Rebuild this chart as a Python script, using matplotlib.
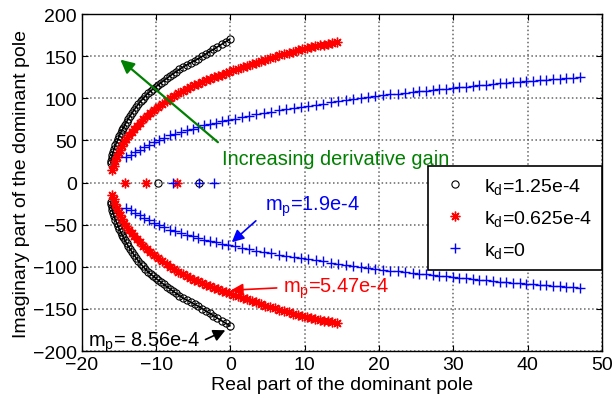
import matplotlib
matplotlib.use("Agg")
import matplotlib.pyplot as plt

plt.rcParams['font.family'] = ['Liberation Sans', 'DejaVu Sans']
plt.rcParams['mathtext.fontset'] = 'custom'
plt.rcParams['mathtext.rm'] = 'Liberation Sans'
plt.rcParams['mathtext.it'] = 'Liberation Sans:italic'

# upper branches (lower branches are the conjugates)
black_x = [-16.1, -16.05, -15.98, -15.9, -15.8, -15.65, -15.5, -15.3, -15.1, -14.95, -14.78, -14.6, -14.4,
           -14.2, -13.98, -13.75, -13.5, -13.24, -12.97, -12.69, -12.4, -12.09, -11.77, -11.44, -11.1,
           -10.75, -10.4, -10.05, -9.7, -9.33, -8.96, -8.58, -8.2, -7.76, -7.31, -6.86, -6.4,
           -5.88, -5.36, -4.83, -4.3, -3.8, -3.3, -2.8, -2.3, -1.75, -1.2, -0.65, -0.1]
black_y = [23, 26, 29, 32.5, 36, 40, 44, 48, 52, 55.5, 58.8, 62, 65,
           68.5, 72, 75.5, 79, 82.5, 86, 89.5, 93, 96.3, 99.6, 102.8, 106,
           108.6, 111.1, 113.6, 116, 118.5, 121, 123.5, 126, 128.8, 131.5, 134.3, 137,
           139.5, 142, 144.5, 147, 149.8, 152.5, 155.3, 158, 161, 164, 167, 170]

red_x = [-15.9, -15.72, -15.52, -15.3, -15.06, -14.8, -14.54, -14.27, -14.0, -13.66, -13.3, -12.95,
         -12.6, -12.16, -11.71, -11.26, -10.8, -10.26, -9.71, -9.16, -8.6, -8.07, -7.53, -6.99, -6.45,
         -5.9, -5.39, -4.87, -4.35, -3.83, -3.31, -2.8, -2.27, -1.74, -1.2, -0.66, -0.13,
         0.4, 1.01, 1.63, 2.24, 2.86, 3.47, 4.09, 4.7, 5.33, 5.96, 6.59, 7.21, 7.84, 8.47,
         9.1, 9.68, 10.26, 10.83, 11.41, 11.99, 12.57, 13.14, 13.72, 14.3]
red_y = [15, 20, 25, 30, 34.5, 39, 43.5, 48, 52, 56, 59.8, 63.5,
         67, 71.2, 75.2, 79.2, 83, 86.6, 90.1, 93.6, 97, 100, 102.9, 105.7, 108.4,
         111, 113.1, 115.2, 117.2, 119.2, 121.1, 123, 124.8, 126.5, 128.2, 129.9, 131.5,
         133, 135, 136.9, 138.8, 140.6, 142.4, 144.2, 146, 147.7, 149.3, 150.9, 152.5, 154, 155.5,
         157, 158.2, 159.4, 160.5, 161.6, 162.7, 163.8, 164.9, 166, 167]

blue_x = [-14.0, -13.4, -12.8, -12.2, -11.6, -11.0, -10.3, -9.6, -8.9, -8.2, -7.5, -6.7, -5.9, -5.1,
          -4.3, -3.5, -2.7, -1.9, -1.1, -0.3, 0.6, 1.5, 2.5, 3.5, 4.5, 5.5, 6.5, 7.5, 8.5, 9.5,
          10.5, 11.5, 12.5, 13.5, 14.5, 15.5, 16.5, 17.5, 18.5, 19.5, 20.5, 21.5, 22.5, 23.5, 24.5,
          25.4, 26.3, 27.2, 28.1, 29.0, 29.9, 30.8, 31.7, 32.6, 33.5, 34.4, 35.3, 36.2, 37.1, 38.0,
          38.9, 39.8, 40.7, 41.6, 42.5, 43.4, 44.3, 45.2, 46.1, 47.0]
blue_y = [30, 33, 36, 39, 42, 45, 48, 51, 53, 56, 58, 60, 62, 64,
          66, 68, 69.5, 71, 72.5, 74, 75.5, 77.3, 79.2, 81, 82.7, 84.2, 85.6, 87, 88.4, 89.7,
          91, 92.4, 93.7, 95, 96.3, 97.5, 98.7, 99.9, 101.1, 102.3, 103.4, 104.5, 105.5, 106.5, 107.5,
          108.3, 109.1, 109.9, 110.7, 111.5, 112.3, 113.1, 113.9, 114.7, 115.5, 116.3, 117, 117.7, 118.4, 119,
          119.6, 120.2, 120.8, 121.4, 122, 122.6, 123.2, 123.8, 124.4, 125]

# real closed-loop poles on the real axis
black_real = [-9.8, -4.2]
red_real = [-14.2, -11.4, -7.2]
blue_real = [-7.7, -4.2, -2.2]

labels = [r'k$_{\mathrm{d}}$=1.25e-4', r'k$_{\mathrm{d}}$=0.625e-4', r'k$_{\mathrm{d}}$=0']

fig = plt.figure(figsize=(6.15, 4.06), dpi=100)
ax = fig.add_axes([0.133, 0.133, 0.846, 0.830])

star = (8, 2, 0)
styles = [
    (black_x, black_y, black_real, 1.2, dict(marker='o', color='k', mfc='none', ms=5.2, mew=0.8)),
    (red_x, red_y, red_real, 2.6, dict(marker=star, color='r', ms=7, mew=1.0)),
    (blue_x, blue_y, blue_real, 0, dict(marker='+', color='b', ms=7, mew=1.0)),
]
handles = []
for (xs, ys, xr, band, st), lab in zip(styles, labels):
    if band:
        # markers sit so close in the original that they read as a band
        ax.plot(xs, ys, '-', color=st['color'], lw=band, solid_capstyle='round')
        ax.plot(xs, [-v for v in ys], '-', color=st['color'], lw=band, solid_capstyle='round')
    h, = ax.plot(xs, ys, ls='none', label=lab, **st)
    ax.plot(xs, [-v for v in ys], ls='none', **st)
    ax.plot(xr, [0] * len(xr), ls='none', **st)
    handles.append(h)

ax.set_xlim(-20, 50)
ax.set_ylim(-200, 200)
ax.set_xticks(range(-20, 51, 10))
ax.set_yticks(range(-200, 201, 50))
ax.grid(True, ls=':', color='0.4', lw=1.1)
ax.tick_params(direction='in', top=True, right=True, labelsize=14, length=4)
for sp in ax.spines.values():
    sp.set_linewidth(1.0)
ax.set_xlabel('Real part of the dominant pole', fontsize=14, labelpad=2)
ax.set_ylabel('Imaginary part of the dominant pole', fontsize=14, labelpad=2)

ax.annotate('', xy=(-15.1, 148), xytext=(-1.4, 45.7),
            arrowprops=dict(arrowstyle='-|>', color='green', lw=1.6, mutation_scale=20))
ax.text(-1.1, 29, 'Increasing derivative gain', color='green', fontsize=14.4, va='center')

ax.annotate('', xy=(-0.1, -73), xytext=(3.7, -43.3),
            arrowprops=dict(arrowstyle='-|>', color='b', lw=1.2, mutation_scale=18))
ax.text(4.6, -28, r'm$_{\mathrm{p}}$=1.9e-4', color='b', fontsize=14.4, va='center')

ax.annotate('', xy=(-0.3, -128), xytext=(6.6, -125),
            arrowprops=dict(arrowstyle='-|>', color='r', lw=1.2, mutation_scale=18))
ax.text(7.05, -125, r'm$_{\mathrm{p}}$=5.47e-4', color='r', fontsize=14.4, va='center')

ax.annotate('', xy=(-0.35, -174), xytext=(-3.7, -187.8),
            arrowprops=dict(arrowstyle='-|>', color='k', lw=1.2, mutation_scale=18))
ax.text(-19.2, -189, r'm$_{\mathrm{p}}$= 8.56e-4', color='k', fontsize=14.4, va='center')

leg = ax.legend(handles=handles, loc='upper right', bbox_to_anchor=(1.0, 0.549),
                borderaxespad=0, fontsize=14, fancybox=False, framealpha=1,
                edgecolor='k', labelspacing=0.62, handletextpad=0.6, borderpad=0.5,
                handlelength=1.8)
leg.get_frame().set_linewidth(1.2)

fig.savefig('out.png', dpi=100)
